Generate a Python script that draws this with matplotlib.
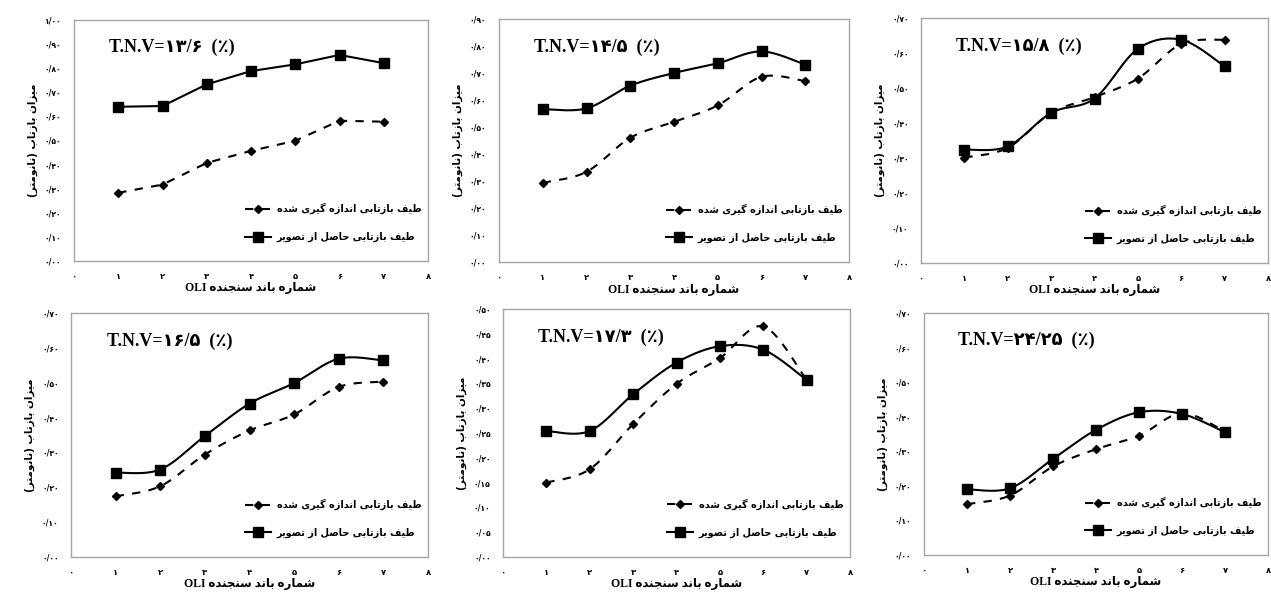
import numpy as np
import matplotlib
matplotlib.use("Agg")
import matplotlib.pyplot as plt

# ---------------- data ----------------
bands = [1, 2, 3, 4, 5, 6, 7]
x_ticks = [0, 1, 2, 3, 4, 5, 6, 7, 8]

tnv_labels = ["T.N.V=۱۳/۶  (٪)", "T.N.V=۱۴/۵  (٪)", "T.N.V=۱۵/۸  (٪)",
              "T.N.V=۱۶/۵  (٪)", "T.N.V=۱۷/۳  (٪)", "T.N.V=۲۴/۲۵  (٪)"]

measured_1 = [0.283, 0.317, 0.407, 0.457, 0.499, 0.582, 0.578]
image_1 = [0.640, 0.643, 0.733, 0.788, 0.816, 0.855, 0.821]

measured_2 = [0.293, 0.334, 0.460, 0.519, 0.580, 0.686, 0.670]
image_2 = [0.566, 0.569, 0.653, 0.700, 0.736, 0.780, 0.731]

measured_3 = [0.301, 0.329, 0.429, 0.474, 0.527, 0.626, 0.638]
image_3 = [0.324, 0.333, 0.429, 0.470, 0.612, 0.638, 0.562]

measured_4 = [0.174, 0.203, 0.294, 0.363, 0.409, 0.488, 0.503]
image_4 = [0.242, 0.251, 0.347, 0.440, 0.499, 0.569, 0.564]

measured_5 = [0.150, 0.177, 0.268, 0.349, 0.401, 0.465, 0.357]
image_5 = [0.254, 0.254, 0.328, 0.392, 0.425, 0.418, 0.357]

measured_6 = [0.147, 0.172, 0.256, 0.306, 0.345, 0.410, 0.357]
image_6 = [0.190, 0.193, 0.278, 0.362, 0.413, 0.408, 0.355]

y_max = [1.0, 0.9, 0.7, 0.7, 0.5, 0.7]
y_step = [0.1, 0.1, 0.1, 0.1, 0.05, 0.1]
smooth = [False, True, True, True, True, True]

label_measured = "طیف بازتابی اندازه گیری شده"
label_image = "طیف بازتابی حاصل از تصویر"
x_label_fa = "شماره باند سنجنده"
y_label_fa = "میزان بازتاب (نانومتر)"

# ---------------- minimal Persian shaping (visual order) ----------------
FORMS = {
    'ا': ('\uFE8D', '\uFE8E', None, None),
    'ب': ('\uFE8F', '\uFE90', '\uFE91', '\uFE92'),
    'ت': ('\uFE95', '\uFE96', '\uFE97', '\uFE98'),
    'ج': ('\uFE9D', '\uFE9E', '\uFE9F', '\uFEA0'),
    'ح': ('\uFEA1', '\uFEA2', '\uFEA3', '\uFEA4'),
    'د': ('\uFEA9', '\uFEAA', None, None),
    'ر': ('\uFEAD', '\uFEAE', None, None),
    'ز': ('\uFEAF', '\uFEB0', None, None),
    'س': ('\uFEB1', '\uFEB2', '\uFEB3', '\uFEB4'),
    'ش': ('\uFEB5', '\uFEB6', '\uFEB7', '\uFEB8'),
    'ص': ('\uFEB9', '\uFEBA', '\uFEBB', '\uFEBC'),
    'ط': ('\uFEC1', '\uFEC2', '\uFEC3', '\uFEC4'),
    'ف': ('\uFED1', '\uFED2', '\uFED3', '\uFED4'),
    'ل': ('\uFEDD', '\uFEDE', '\uFEDF', '\uFEE0'),
    'م': ('\uFEE1', '\uFEE2', '\uFEE3', '\uFEE4'),
    'ن': ('\uFEE5', '\uFEE6', '\uFEE7', '\uFEE8'),
    'ه': ('\uFEE9', '\uFEEA', '\uFEEB', '\uFEEC'),
    'و': ('\uFEED', '\uFEEE', None, None),
    'ی': ('\uFBFC', '\uFBFD', '\uFBFE', '\uFBFF'),
    'گ': ('\uFB92', '\uFB93', '\uFB94', '\uFB95'),
}


def rtl(s):
    out = []
    for i, c in enumerate(s):
        if c not in FORMS:
            out.append(c)
            continue
        prev = s[i - 1] if i > 0 else None
        nxt = s[i + 1] if i + 1 < len(s) else None
        pj = prev in FORMS and FORMS[prev][2] is not None
        nj = FORMS[c][2] is not None and nxt in FORMS
        iso, fin, ini, med = FORMS[c]
        if pj and nj:
            out.append(med)
        elif pj:
            out.append(fin)
        elif nj:
            out.append(ini)
        else:
            out.append(iso)
    vis = ''.join(reversed(out))
    return vis.translate(str.maketrans({'(': ')', ')': '('}))


FA_DIG = str.maketrans('0123456789.', '۰۱۲۳۴۵۶۷۸۹/')


def fa_num(v, fmt="{:.2f}"):
    return fmt.format(v).translate(FA_DIG)


def smooth_curve(xs, ys, n=24):
    xs = np.asarray(xs, float)
    ys = np.asarray(ys, float)
    px = np.concatenate([[xs[0]], xs, [xs[-1]]])
    py = np.concatenate([[ys[0]], ys, [ys[-1]]])
    t = np.linspace(0, 1, n, endpoint=False)
    cx, cy = [], []
    for i in range(1, len(xs)):
        p0 = np.array([px[i - 1], py[i - 1]])
        p1 = np.array([px[i], py[i]])
        p2 = np.array([px[i + 1], py[i + 1]])
        p3 = np.array([px[i + 2], py[i + 2]])
        b1 = p1 + (p2 - p0) / 6.0
        b2 = p2 - (p3 - p1) / 6.0
        pts = ((1 - t)[:, None] ** 3 * p1 + 3 * ((1 - t) ** 2 * t)[:, None] * b1
               + 3 * ((1 - t) * t ** 2)[:, None] * b2 + (t ** 3)[:, None] * p2)
        cx.extend(pts[:, 0])
        cy.extend(pts[:, 1])
    cx.append(xs[-1])
    cy.append(ys[-1])
    idx = [k * n for k in range(len(xs))]
    return np.array(cx), np.array(cy), idx


# ---------------- figure ----------------
W, H = 1271, 592
fig = plt.figure(figsize=(W / 100, H / 100), dpi=100)
fig.patch.set_facecolor("white")

boxes = [(74, 428, 20, 261), (499, 849, 19, 262), (921, 1268, 18, 263),
         (71, 428, 313, 557), (503, 850, 309, 557), (924, 1268, 313, 555)]

measured = [measured_1, measured_2, measured_3, measured_4, measured_5, measured_6]
images = [image_1, image_2, image_3, image_4, image_5, image_6]

FA = ['DejaVu Sans']
SERIF = ['Liberation Serif', 'DejaVu Sans']
spine_col = '#a6a6a6'

for k in range(6):
    l, r, t, b = boxes[k]
    ax = fig.add_axes([l / W, (H - b) / H, (r - l) / W, (b - t) / H])
    for sp in ax.spines.values():
        sp.set_color(spine_col)
        sp.set_linewidth(1.0)

    for ys, ls, mk, ms, lab in [(measured[k], (0, (4, 4)), 'D', 4.3, label_measured),
                                (images[k], '-', 's', 6.5, label_image)]:
        if smooth[k]:
            cx, cy, idx = smooth_curve(bands, ys)
        else:
            cx, cy, idx = np.array(bands, float), np.array(ys), list(range(len(bands)))
        ax.plot(cx, cy, color='black', linestyle=ls, linewidth=1.5,
                marker=mk, markersize=ms, markevery=idx,
                markerfacecolor='black', markeredgecolor='black',
                label=rtl(lab), clip_on=False)

    ax.set_xlim(0, 8)
    ax.set_ylim(0, y_max[k])
    ax.set_xticks(x_ticks)
    ax.set_xticklabels([fa_num(v, "{:d}") for v in x_ticks], fontsize=6,
                       family=FA, fontweight='bold')
    yt = np.round(np.arange(0, y_max[k] + 1e-9, y_step[k]), 2)
    ax.set_yticks(yt)
    ax.set_yticklabels([fa_num(v) for v in yt], fontsize=5.5, family=FA,
                       fontweight='bold')
    ax.tick_params(length=0, pad=9, colors='black')
    ax.tick_params(axis='x', pad=8)

    ax.set_xlabel("OLI " + rtl(x_label_fa), fontsize=8.5, family=SERIF,
                  fontweight='bold', labelpad=1)
    ax.set_ylabel(rtl(y_label_fa), fontsize=7.5, family=FA, fontweight='bold',
                  labelpad=5)

    ax.text(0.10, 0.885, tnv_labels[k], transform=ax.transAxes, fontsize=13,
            family=SERIF, fontweight='bold', va='center', ha='left')

    leg = ax.legend(loc='lower right', bbox_to_anchor=(1.0, 0.05), frameon=False,
                    prop={'family': FA, 'weight': 'bold', 'size': 7},
                    handlelength=2.6, labelspacing=1.8, handletextpad=0.6,
                    borderaxespad=0.3)

fig.savefig("out.png", dpi=100, facecolor="white")
